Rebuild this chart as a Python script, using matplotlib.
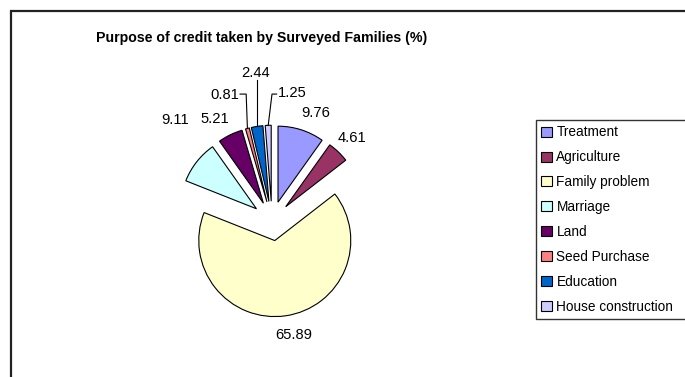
import numpy as np
import matplotlib
matplotlib.use("Agg")
from matplotlib import pyplot as plt
from matplotlib.patches import Rectangle

plt.rcParams['font.family'] = ['Liberation Sans', 'DejaVu Sans']

# données : but du crédit (%)
categories = ["Treatment", "Agriculture", "Family problem", "Marriage",
              "Land", "Seed Purchase", "Education", "House construction"]
valeurs = [9.76, 4.61, 65.89, 9.11, 5.21, 0.81, 2.44, 1.25]
couleurs = ["#9999FF", "#993366", "#FFFFCC", "#CCFFFF",
            "#660066", "#FF8080", "#0066CC", "#CCCCFF"]

ECLAT = 0.26

fig = plt.figure(figsize=(6.85, 3.77), dpi=100)

# cadre du graphique
fig.patches.append(Rectangle((11 / 685, -0.1), 1.0, 1 - 11 / 377 + 0.1,
                             transform=fig.transFigure, fill=False,
                             edgecolor="#222222", linewidth=1.6))

fig.text(262 / 685, 1 - 38 / 377,
         "Purpose of credit taken by Surveyed Families (%)",
         ha="center", va="center", fontsize=10.2, fontweight="bold")

ax = fig.add_axes([158 / 685, 42 / 377, 228 / 685, 228 / 377])
parts, _ = ax.pie(valeurs, colors=couleurs, startangle=90, counterclock=False,
                  explode=[ECLAT] * len(valeurs),
                  wedgeprops=dict(edgecolor="black", linewidth=0.8))
ax.set_xlim(-1.5, 1.5)
ax.set_ylim(-1.5, 1.5)
ax.set_aspect("equal")
ax.axis("off")


def bordExterieur(w):
    """point du bord extérieur d'une part, au milieu de son arc"""
    a = np.deg2rad((w.theta1 + w.theta2) / 2)
    cx, cy = w.center
    return cx + w.r * np.cos(a), cy + w.r * np.sin(a)


# étiquettes : position du texte (unités du camembert)
positions = [(0.58, 1.42), (1.05, 1.09), (0.28, -1.50), (-1.28, 1.33),
             (-0.75, 1.34), (-0.62, 1.66), (-0.21, 1.95), (0.26, 1.68)]
for i, (v, (x, y)) in enumerate(zip(valeurs, positions)):
    ax.text(x, y, f"{v:.2f}", ha="center", va="center", fontsize=10.6,
            clip_on=False)

# traits de rappel pour les petites parts
xs, ys = bordExterieur(parts[5])
ax.plot([-0.42, -0.34, xs], [1.67, 1.67, ys], color="black", lw=0.8,
        clip_on=False)
xs, ys = bordExterieur(parts[6])
ax.plot([xs, xs], [1.85, ys], color="black", lw=0.8, clip_on=False)
xs, ys = bordExterieur(parts[7])
ax.plot([0.06, 0.0, xs], [1.67, 1.67, ys], color="black", lw=0.8,
        clip_on=False)

leg = fig.legend(parts, categories, loc="upper left",
                 bbox_to_anchor=(536 / 685, 1 - 120 / 377, 160 / 685, 0),
                 mode="expand",
                 fontsize=9.8, frameon=True, fancybox=False, shadow=False,
                 handlelength=0.75, handleheight=0.75, handletextpad=0.35,
                 labelspacing=0.8, borderpad=0.4, borderaxespad=0)
leg.get_frame().set_edgecolor("black")
leg.get_frame().set_linewidth(1.0)

fig.savefig("out.png", dpi=100)
